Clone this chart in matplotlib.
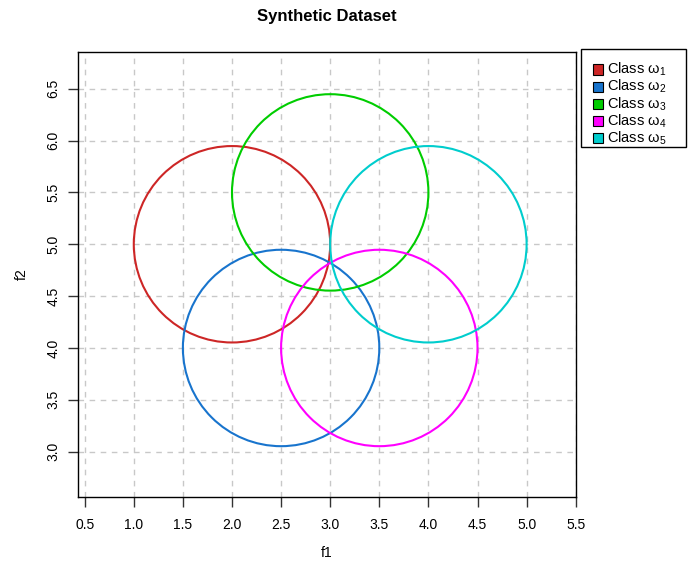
import matplotlib.pyplot as plt
from matplotlib.patches import Ellipse, Rectangle

plt.rcParams['font.family'] = ['Liberation Sans', 'DejaVu Sans']
plt.rcParams['mathtext.fontset'] = 'custom'
plt.rcParams['mathtext.rm'] = 'Liberation Sans'
plt.rcParams['mathtext.it'] = 'Liberation Sans'

# class centres and circle radius (in f1 units)
class_names = ["Class ω$_1$", "Class ω$_2$", "Class ω$_3$", "Class ω$_4$", "Class ω$_5$"]
centers_f1 = [2.0, 2.5, 3.0, 3.5, 4.0]
centers_f2 = [5.0, 4.0, 5.5, 4.0, 5.0]
radius = 1.0
colors = ["#CD2626", "#1874CD", "#00CD00", "#FF00FF", "#00CDCD"]

x_ticks = [0.5, 1.0, 1.5, 2.0, 2.5, 3.0, 3.5, 4.0, 4.5, 5.0, 5.5]
y_ticks = [3.0, 3.5, 4.0, 4.5, 5.0, 5.5, 6.0, 6.5]

W, H = 688, 566
fig = plt.figure(figsize=(W / 100, H / 100), dpi=100)
ax = fig.add_axes([0.1138, 0.1219, 0.7230, 0.7868])
xlim = (0.435, 5.5)
ylim = (2.563, 6.857)
ax.set_xlim(*xlim)
ax.set_ylim(*ylim)

# keep circles round on screen, like plotrix::draw.circle
pos = ax.get_position()
px_x = pos.width * W / (xlim[1] - xlim[0])
px_y = pos.height * H / (ylim[1] - ylim[0])
ymult = px_x / px_y

for cx, cy, col in zip(centers_f1, centers_f2, colors):
    ax.add_patch(Ellipse((cx, cy), 2 * radius, 2 * radius * ymult,
                         fill=False, edgecolor=col, lw=1.5, zorder=3))

ax.set_xticks(x_ticks)
ax.set_yticks(y_ticks)
ax.set_xticklabels([f"{v:.1f}" for v in x_ticks])
ax.set_yticklabels([f"{v:.1f}" for v in y_ticks], rotation=90, va='center')
ax.tick_params(axis='both', labelsize=10, length=7, width=1, direction='out', color='#333333')
ax.tick_params(axis='x', pad=8)
ax.tick_params(axis='y', pad=6)
ax.grid(True, color='#C8C8C8', linestyle=(0, (4, 4)), lw=1, zorder=0)
ax.set_axisbelow(True)
for s in ax.spines.values():
    s.set_color('black')
    s.set_linewidth(1)


def fx(px):
    return px / W


def fy(py):
    return 1 - py / H


fig.text(fx(327), fy(553), "f1", ha='center', va='center', fontsize=10)
fig.text(fx(22), fy(274), "f2", ha='center', va='center', fontsize=10, rotation=90)
fig.text(fx(327), fy(17), "Synthetic Dataset", ha='center', va='center',
         fontsize=12, fontweight='bold')

# legend box to the right of the plot region
fig.add_artist(Rectangle((fx(580.5), fy(147)), fx(686) - fx(580.5), fy(49) - fy(147),
                         transform=fig.transFigure, facecolor='white',
                         edgecolor='black', lw=1))
row_y = 69.5
for name, col in zip(class_names, colors):
    fig.add_artist(Rectangle((fx(593), fy(row_y + 5)), 10 / W, 10 / H,
                             transform=fig.transFigure, facecolor=col,
                             edgecolor='black', lw=0.8))
    fig.text(fx(607), fy(row_y), name, ha='left', va='center', fontsize=10.5)
    row_y += 17.2

fig.savefig("out.png", dpi=100)
